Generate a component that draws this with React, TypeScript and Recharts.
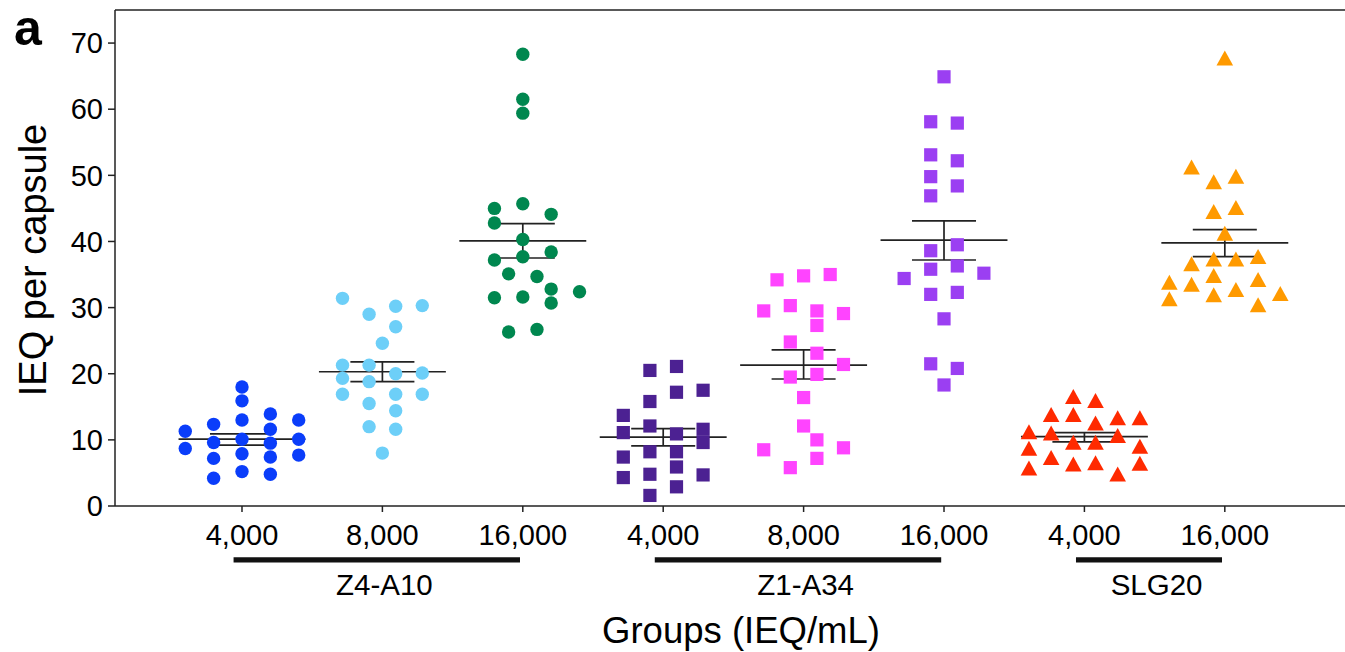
import React from 'react';
import { ScatterChart, Scatter, XAxis, YAxis, ReferenceLine, ReferenceDot } from 'recharts';

const FONT = '"Liberation Sans", Arial, Helvetica, sans-serif';

// categories (x tick labels) and groupings
const categories = ['4,000', '8,000', '16,000', '4,000', '8,000', '16,000', '4,000', '16,000'];
const groupNames = ['Z4-A10', 'Z1-A34', 'SLG20'];
const groupFirst = [0, 3, 6];
const groupLast = [2, 5, 7];
const yTicks = [0, 10, 20, 30, 40, 50, 60, 70];

// each series: list of [column slot, values in that column]
type Col = [number, number[]];
const z4a10_4000: Col[] = [
  [-4, [11.3, 8.7]],
  [-2, [12.35, 9.6, 7.2, 4.2]],
  [0, [18.0, 15.9, 13.0, 10.1, 7.9, 5.2]],
  [2, [13.9, 11.6, 9.5, 7.4, 4.8]],
  [4, [13.0, 10.1, 7.7]],
];
const z4a10_8000: Col[] = [
  [-3, [31.4, 21.3, 19.3, 16.9]],
  [-1, [29.0, 21.3, 18.8, 15.5, 12.0]],
  [0, [24.6, 8.0]],
  [1, [30.2, 27.1, 20.0, 16.9, 14.4, 11.6]],
  [3, [30.3, 20.1, 16.9]],
];
const z4a10_16000: Col[] = [
  [-2, [45.0, 42.8, 37.2, 31.5]],
  [-1, [35.1, 26.3]],
  [0, [68.3, 61.5, 59.4, 45.7, 40.3, 37.7, 31.6]],
  [1, [34.7, 26.7]],
  [2, [44.1, 38.4, 32.8, 30.7]],
  [4, [32.4]],
];
const z1a34_4000: Col[] = [
  [-3, [13.7, 11.1, 7.4, 4.3]],
  [-1, [20.5, 15.8, 12.1, 8.2, 4.8, 1.6]],
  [1, [21.1, 17.2, 10.9, 8.2, 5.9, 2.9]],
  [3, [17.5, 11.6, 9.6, 4.7]],
];
const z1a34_8000: Col[] = [
  [-3, [29.5, 8.5]],
  [-2, [34.2]],
  [-1, [30.3, 24.8, 19.5, 5.8]],
  [0, [34.8, 16.4, 12.1]],
  [1, [29.5, 27.3, 23.1, 19.9, 10.0, 7.2]],
  [2, [35.0]],
  [3, [29.1, 21.4, 8.8]],
];
const z1a34_16000: Col[] = [
  [-3, [34.4]],
  [-1, [58.1, 53.1, 49.8, 46.9, 38.6, 35.8, 32.0, 21.5]],
  [0, [64.9, 28.3, 18.3]],
  [1, [57.9, 52.2, 48.4, 39.5, 36.3, 32.3, 20.8]],
  [3, [35.2]],
];
const slg20_4000: Col[] = [
  [-5, [11.2, 8.7, 5.7]],
  [-3, [13.8, 11.0, 7.3]],
  [-1, [16.5, 13.8, 9.6, 6.3]],
  [1, [15.9, 12.5, 9.6, 6.5]],
  [3, [13.3, 10.6, 4.8]],
  [5, [13.3, 9.0, 6.4]],
];
const slg20_16000: Col[] = [
  [-5, [33.8, 31.3]],
  [-3, [51.2, 36.6, 33.5]],
  [-1, [49.0, 44.5, 37.3, 34.8, 31.9]],
  [0, [67.7, 41.2]],
  [1, [49.8, 45.1, 37.3, 32.7]],
  [3, [37.7, 34.2, 30.4]],
  [5, [32.1]],
];

// mean and SEM
const means = [10.1, 20.3, 40.1, 10.4, 21.3, 40.2, 10.5, 39.8];
const semHigh = [10.9, 21.8, 42.7, 11.7, 23.6, 43.1, 11.1, 41.8];
const semLow = [9.2, 18.8, 37.5, 9.1, 19.2, 37.2, 9.7, 37.7];

const seriesCols = [z4a10_4000, z4a10_8000, z4a10_16000, z1a34_4000, z1a34_8000, z1a34_16000, slg20_4000, slg20_16000];

// styles
const colors = ['#0a3dfa', '#6dcff8', '#00874f', '#4c2192', '#ff44ff', '#9b3ff2', '#ff2a00', '#ff9a00'];
const shapes = ['circle', 'circle', 'circle', 'square', 'square', 'square', 'triangle', 'triangle'];
const slotWidth = [0.101, 0.0947, 0.101, 0.0947, 0.0947, 0.0947, 0.079, 0.079];
const meanHalf = 0.452;
const capHalf = 0.228;
const LINE = '#222';

const makeShape = (kind: string, color: string) => (props: any) => {
  const { cx, cy } = props;
  if (cx == null || cy == null) return <g />;
  if (kind === 'circle') return <circle cx={cx} cy={cy} r={6.7} fill={color} />;
  if (kind === 'square') return <rect x={cx - 6.6} y={cy - 6.6} width={13.2} height={13.2} fill={color} />;
  return <polygon points={`${cx},${cy - 7.8} ${cx - 8.3},${cy + 7.2} ${cx + 8.3},${cy + 7.2}`} fill={color} />;
};

const YTitle = () => (
  <g>
    <text x={14} y={45} fontSize={50} fontWeight="bold" fontFamily={FONT} fill="#000">a</text>
    <text x={46} y={260} transform="rotate(-90 46 260)" textAnchor="middle" fontSize={38} fontFamily={FONT} fill="#000">
      IEQ per capsule
    </text>
  </g>
);

const XTitle = () => (
  <text x={741} y={643} textAnchor="middle" fontSize={36.5} fontFamily={FONT} fill="#000">
    Groups (IEQ/mL)
  </text>
);

const makeLabel = (name: string) => (props: any) => {
  const { cx, cy } = props;
  if (cx == null || cy == null) return <g />;
  return (
    <text x={cx + 2} y={cy} textAnchor="middle" fontSize={29.5} fontFamily={FONT} fill="#000">
      {name}
    </text>
  );
};

export default function App() {
  return (
    <div style={{ position: 'absolute', left: 0, top: 0, width: 1345, height: 652, overflow: 'hidden', background: '#fff' }}>
      <ScatterChart width={1345} height={652} margin={{ top: 10, right: 0, bottom: 0, left: 0 }}>
        <XAxis
          type="number"
          dataKey="x"
          domain={[-0.9045, 7.856]}
          ticks={[0, 1, 2, 3, 4, 5, 6, 7]}
          interval={0}
          tickFormatter={(v: number) => categories[v]}
          height={146}
          tickSize={6}
          tickMargin={12}
          tick={{ fontSize: 29, fill: '#000', fontFamily: FONT }}
          axisLine={{ stroke: LINE, strokeWidth: 1.5 }}
          tickLine={{ stroke: LINE, strokeWidth: 1.5 }}
          label={<XTitle />}
        />
        <YAxis
          type="number"
          dataKey="y"
          domain={[0, 75]}
          ticks={yTicks}
          interval={0}
          width={115}
          tickSize={7}
          tickMargin={5}
          tick={{ fontSize: 29, fill: '#000', fontFamily: FONT }}
          axisLine={{ stroke: LINE, strokeWidth: 1.5 }}
          tickLine={{ stroke: LINE, strokeWidth: 1.5 }}
          label={<YTitle />}
        />
        {seriesCols.map((cols, i) => (
          <Scatter
            key={`s${i}`}
            data={cols.flatMap(([slot, vals]) => vals.map((v) => ({ x: i + slot * slotWidth[i], y: v })))}
            dataKey="y"
            shape={makeShape(shapes[i], colors[i])}
            isAnimationActive={false}
          />
        ))}
        <ReferenceLine y={75} stroke={LINE} strokeWidth={1.5} />
        {means.map((m, i) => (
          <ReferenceLine key={`m${i}`} segment={[{ x: i - meanHalf, y: m }, { x: i + meanHalf, y: m }]} stroke={LINE} strokeWidth={1.7} />
        ))}
        {means.map((m, i) => (
          <ReferenceLine key={`v${i}`} segment={[{ x: i, y: semLow[i] }, { x: i, y: semHigh[i] }]} stroke={LINE} strokeWidth={1.7} />
        ))}
        {means.map((m, i) => (
          <ReferenceLine key={`h${i}`} segment={[{ x: i - capHalf, y: semHigh[i] }, { x: i + capHalf, y: semHigh[i] }]} stroke={LINE} strokeWidth={1.7} />
        ))}
        {means.map((m, i) => (
          <ReferenceLine key={`l${i}`} segment={[{ x: i - capHalf, y: semLow[i] }, { x: i + capHalf, y: semLow[i] }]} stroke={LINE} strokeWidth={1.7} />
        ))}
        {groupNames.map((g, k) => (
          <ReferenceLine
            key={`gb${k}`}
            ifOverflow="visible"
            segment={[{ x: groupFirst[k] - 0.06, y: -8.16 }, { x: groupLast[k] - 0.02, y: -8.16 }]}
            stroke="#111"
            strokeWidth={5.3}
          />
        ))}
        {groupNames.map((g, k) => (
          <ReferenceDot
            key={`gl${k}`}
            ifOverflow="visible"
            x={(groupFirst[k] + groupLast[k]) / 2}
            y={-13.45}
            r={0}
            shape={makeLabel(g)}
          />
        ))}
      </ScatterChart>
    </div>
  );
}
